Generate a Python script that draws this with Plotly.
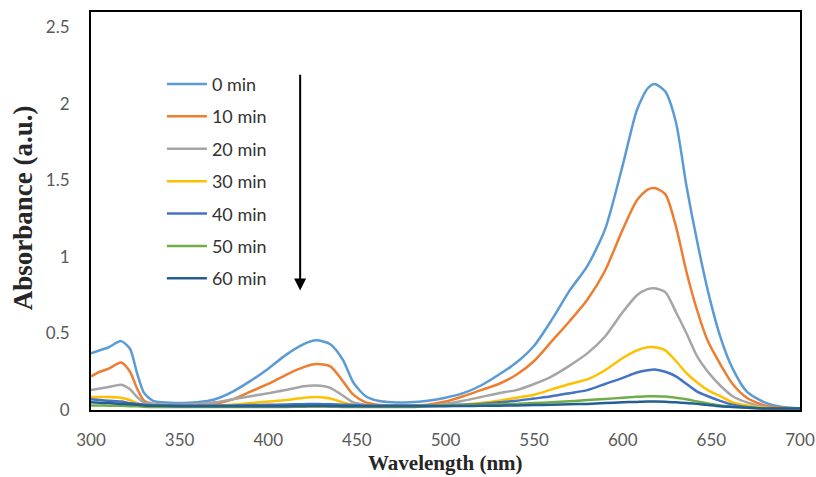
import plotly.graph_objects as go

wavelength = [300, 305, 310, 317, 322, 326, 330, 335, 340, 350, 360, 370, 380, 390, 400, 410, 420, 427, 435, 442,
              448, 455, 462, 470, 480, 490, 500, 510, 520, 530, 540, 550, 560, 570, 580, 590, 600, 608, 614, 618,
              624, 630, 636, 642, 648, 655, 662, 670, 680, 690, 700]

a_0 = [0.37, 0.39, 0.41, 0.45, 0.40, 0.24, 0.11, 0.06, 0.05, 0.045, 0.05, 0.07, 0.12, 0.19, 0.27, 0.36, 0.43, 0.455, 0.43, 0.33,
       0.18, 0.09, 0.06, 0.05, 0.05, 0.06, 0.08, 0.11, 0.16, 0.23, 0.31, 0.42, 0.59, 0.78, 0.94, 1.18, 1.6, 1.96, 2.1, 2.13,
       2.08, 1.88, 1.46, 1.1, 0.78, 0.48, 0.27, 0.12, 0.05, 0.02, 0.01]
a_10 = [0.22, 0.25, 0.27, 0.31, 0.25, 0.14, 0.06, 0.04, 0.035, 0.03, 0.03, 0.04, 0.07, 0.12, 0.17, 0.23, 0.28, 0.3, 0.285, 0.19,
        0.1, 0.05, 0.035, 0.03, 0.03, 0.035, 0.055, 0.09, 0.13, 0.17, 0.23, 0.32, 0.45, 0.58, 0.72, 0.91, 1.18, 1.37, 1.44, 1.45,
        1.41, 1.2, 0.9, 0.65, 0.45, 0.3, 0.17, 0.08, 0.03, 0.015, 0.01]
a_20 = [0.13, 0.14, 0.15, 0.165, 0.135, 0.085, 0.05, 0.04, 0.035, 0.035, 0.04, 0.05, 0.07, 0.09, 0.11, 0.13, 0.155, 0.16, 0.145, 0.095,
        0.05, 0.035, 0.03, 0.03, 0.03, 0.03, 0.04, 0.06, 0.085, 0.11, 0.13, 0.17, 0.22, 0.29, 0.37, 0.48, 0.64, 0.75, 0.79, 0.795,
        0.77, 0.64, 0.5, 0.35, 0.25, 0.16, 0.09, 0.05, 0.02, 0.01, 0.01]
a_30 = [0.085, 0.085, 0.085, 0.08, 0.065, 0.045, 0.035, 0.03, 0.03, 0.03, 0.03, 0.03, 0.035, 0.045, 0.055, 0.065, 0.08, 0.085, 0.075, 0.05,
        0.035, 0.03, 0.03, 0.03, 0.03, 0.03, 0.03, 0.035, 0.045, 0.06, 0.08, 0.1, 0.135, 0.17, 0.2, 0.26, 0.34, 0.39, 0.41, 0.41,
        0.39, 0.32, 0.24, 0.18, 0.13, 0.09, 0.05, 0.03, 0.015, 0.01, 0.01]
a_40 = [0.07, 0.065, 0.06, 0.055, 0.045, 0.04, 0.035, 0.03, 0.03, 0.03, 0.03, 0.03, 0.03, 0.032, 0.034, 0.036, 0.038, 0.04, 0.038, 0.035,
        0.032, 0.03, 0.03, 0.03, 0.03, 0.03, 0.03, 0.035, 0.04, 0.05, 0.06, 0.075, 0.09, 0.11, 0.13, 0.17, 0.21, 0.245, 0.26, 0.265,
        0.25, 0.22, 0.17, 0.12, 0.09, 0.06, 0.035, 0.02, 0.01, 0.01, 0.01]
a_50 = [0.03, 0.03, 0.028, 0.027, 0.025, 0.024, 0.022, 0.02, 0.02, 0.02, 0.02, 0.02, 0.02, 0.02, 0.02, 0.02, 0.022, 0.022, 0.022, 0.02,
        0.02, 0.02, 0.02, 0.02, 0.02, 0.025, 0.03, 0.032, 0.035, 0.038, 0.04, 0.045, 0.05, 0.057, 0.065, 0.072, 0.08, 0.086, 0.09, 0.09,
        0.088, 0.08, 0.07, 0.055, 0.042, 0.03, 0.022, 0.015, 0.01, 0.01, 0.01]
a_60 = [0.05, 0.047, 0.045, 0.04, 0.037, 0.034, 0.03, 0.028, 0.027, 0.025, 0.025, 0.025, 0.025, 0.025, 0.025, 0.025, 0.026, 0.027, 0.026, 0.025,
        0.025, 0.025, 0.025, 0.025, 0.025, 0.025, 0.025, 0.026, 0.027, 0.028, 0.03, 0.032, 0.034, 0.037, 0.04, 0.045, 0.05, 0.053, 0.055, 0.055,
        0.054, 0.05, 0.046, 0.04, 0.033, 0.025, 0.02, 0.015, 0.01, 0.01, 0.01]

series_names = ["0 min", "10 min", "20 min", "30 min", "40 min", "50 min", "60 min"]
series_values = [a_0, a_10, a_20, a_30, a_40, a_50, a_60]
series_colors = ["#5B9BD5", "#ED7D31", "#A5A5A5", "#FFC000", "#4472C4", "#70AD47", "#255E91"]

x_ticks = [300, 350, 400, 450, 500, 550, 600, 650, 700]
y_ticks = [0, 0.5, 1, 1.5, 2, 2.5]
y_tick_text = ["0", "0.5", "1", "1.5", "2", "2.5"]

fig = go.Figure()
for i, (name, vals, col) in enumerate(zip(series_names, series_values, series_colors)):
    fig.add_trace(go.Scatter(
        x=wavelength, y=vals, mode="lines", name=name, legendgroup=f"g{i}",
        line=dict(color=col, width=2.5, shape="spline", smoothing=0.7),
    ))

fig.add_annotation(
    x=418, y=0.78, ax=418, ay=2.2, xref="x", yref="y", axref="x", ayref="y",
    showarrow=True, arrowhead=2, arrowsize=1.2, arrowwidth=2, arrowcolor="black", text="",
)

tick_font = dict(family="Lato, 'Open Sans', sans-serif", size=17, color="#595959")
serif = "'Liberation Serif', 'Times New Roman', serif"

fig.update_layout(
    width=816, height=477,
    margin=dict(l=91, r=16, t=12, b=67),
    paper_bgcolor="white", plot_bgcolor="white",
    showlegend=True,
    legend=dict(
        x=0.1, y=0.865, xanchor="left", yanchor="top",
        font=dict(family="Lato, 'Open Sans', sans-serif", size=18, color="#333333"),
        bgcolor="rgba(0,0,0,0)", tracegroupgap=6, traceorder="grouped",
        itemwidth=40,
    ),
    xaxis=dict(
        range=[300, 700], tickmode="array", tickvals=x_ticks,
        showgrid=False, zeroline=False, ticks="", automargin=False,
        showline=True, linecolor="black", linewidth=2, mirror=True,
        tickfont=tick_font, ticklabelstandoff=14,
    ),
    yaxis=dict(
        range=[0, 2.6], tickmode="array", tickvals=y_ticks, ticktext=y_tick_text,
        showgrid=False, zeroline=False, ticks="", automargin=False,
        showline=True, linecolor="black", linewidth=2, mirror=True,
        tickfont=tick_font, ticklabelstandoff=16,
    ),
)

fig.add_annotation(
    text="<b>Wavelength (nm)</b>", xref="paper", yref="paper", x=0.5, y=-0.133,
    xanchor="center", yanchor="middle", showarrow=False,
    font=dict(family=serif, size=21, color="#262626"),
)
fig.add_annotation(
    text="<b>Absorbance (a.u.)</b>", xref="paper", yref="paper", x=-0.096, y=0.509,
    xanchor="center", yanchor="middle", showarrow=False, textangle=-90,
    font=dict(family=serif, size=27, color="#262626"),
)

fig.write_html("out.html")
